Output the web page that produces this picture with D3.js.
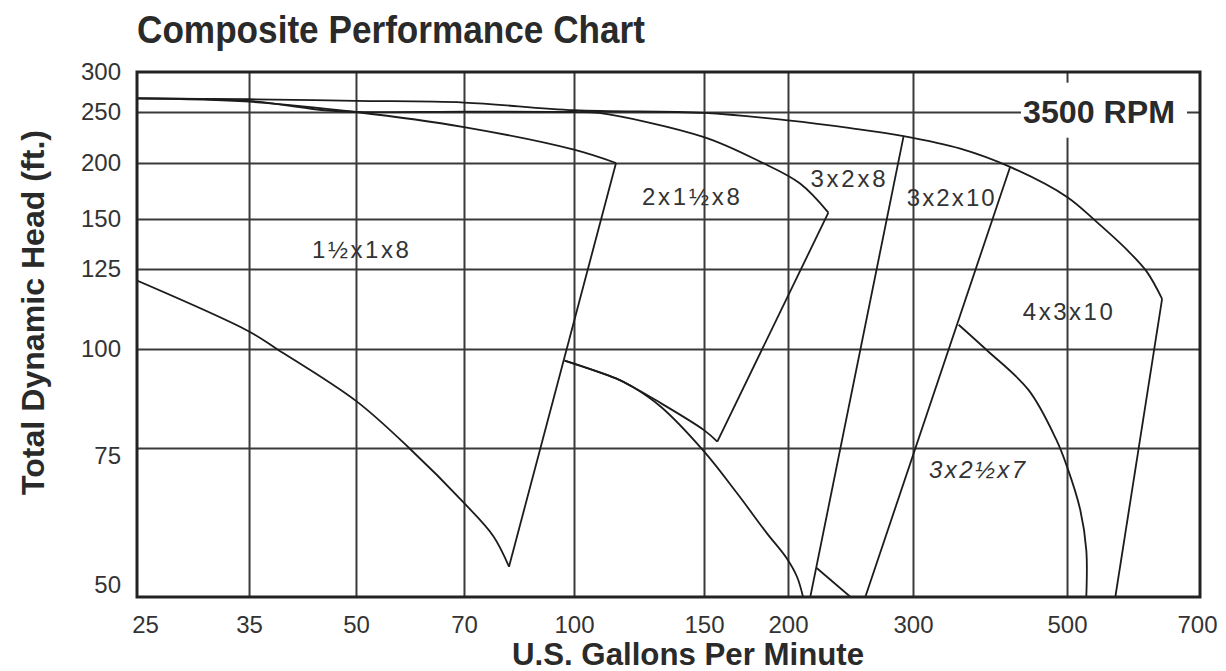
<!DOCTYPE html>
<html>
<head>
<meta charset="utf-8">
<script src="https://cdn.jsdelivr.net/npm/d3@7"></script>
<style>
  body { margin: 0; background: #fff; }
  svg { display: block; }
  text { font-family: "Liberation Sans", Arial, Helvetica, sans-serif; fill: #2a2a2a; }
  .grid line { stroke: #3a3a3a; stroke-width: 2; }
  .curve { fill: none; stroke: #1c1c1c; stroke-width: 1.8; }
</style>
</head>
<body>
<svg id="chart"></svg>
<script>
// tick values on both axes
const gpmTicks = [25, 35, 50, 70, 100, 150, 200, 300, 500, 700];
const headTicks = [50, 75, 100, 125, 150, 200, 250, 300];

// pump curves as [gpm, head ft]
// 1½x1x8
const top1 = [[25, 266], [35, 262], [50, 250], [70, 234], [100, 212], [114, 200]];
const end1 = [[114, 200], [81, 54.3]];
const low1 = [[25, 121], [35, 105], [38.4, 100], [50, 86], [59, 75], [70, 64.6], [77, 59], [81, 54.3]];

// 2x1½x8
const top2 = [[25, 266], [35, 263], [45, 252], [50, 250], [70, 250.5], [100, 250], [108, 249],
              [150, 224], [182, 201], [208, 180], [228, 155]];
const end2 = [[228, 155], [157, 76.4]];
const low2 = [[97, 96.7], [114, 91.8], [120, 89.6], [129, 86.2], [150, 79], [157, 76.4]];

// outer curve shared by 3x2x8, 3x2x10 and 4x3x10
const topOuter = [[25, 266], [35, 265], [50, 263], [70, 261], [100, 252], [150, 249], [200, 241],
                  [245, 233], [291, 225], [351, 213], [414, 196], [500, 168], [540, 148],
                  [582, 134], [612, 124], [636, 115]];

// 3x2x8
const end3 = [[291, 225], [215, 50]];
const low3 = [[97, 96.7], [114, 91.8], [120, 89.6], [131, 84.6], [150, 74.3], [168, 66.3],
              [186, 59.5], [199, 55.6], [206, 52.8], [210, 50]];

// 3x2x10
const end4 = [[414, 196], [257, 50]];
const low4 = [[219.5, 54.1], [245, 50]];

// 4x3x10
const end5 = [[636, 115], [565, 50]];

// 3x2½x7
const curve6 = [[349, 107], [383, 99.7], [440, 88.8], [482, 77], [500, 71.3], [517, 63.4],
                [525, 56.8], [525, 50]];

// model names and where they sit (gpm, head)
const sizeNames = ["1½x1x8", "2x1½x8", "3x2x8", "3x2x10", "4x3x10", "3x2½x7"];
const sizeSpots = [[50.7, 130], [144, 161], [243, 177], [340, 160], [501, 108.4], [371, 69.1]];
const sizeWidths = [97, 98, 75, 88, 90, 96];

const width = 1226, height = 671;
const margin = {top: 72, right: 26, bottom: 74, left: 137};
const w = width - margin.left - margin.right;
const h = height - margin.top - margin.bottom;

// the printed grid isn't an even log grid, so every tick gets its own stop (share of the plot)
const gpmStops = [0, 0.1054, 0.206, 0.3076, 0.4111, 0.5334, 0.6124, 0.73, 0.8749, 1];
const headStops = [0, 0.2838, 0.4724, 0.6248, 0.72, 0.8267, 0.9238, 1];

const x = d3.scaleLog().domain(gpmTicks).range(gpmStops.map(f => f * w));
const y = d3.scaleLog().domain(headTicks).range(headStops.map(f => h - f * h));

const svg = d3.select("#chart")
    .attr("width", width)
    .attr("height", height);

const g = svg.append("g")
    .attr("transform", `translate(${margin.left},${margin.top})`);

svg.append("defs").append("clipPath").attr("id", "plot")
    .append("rect").attr("width", w).attr("height", h);

// grid
g.append("g")
    .attr("class", "grid")
    .attr("transform", `translate(0,${h})`)
    .call(d3.axisBottom(x).tickValues(gpmTicks.slice(1, -1)).tickSize(-h).tickFormat(""))
    .call(s => s.select(".domain").remove());

g.append("g")
    .attr("class", "grid")
    .call(d3.axisLeft(y).tickValues(headTicks.slice(1, -1)).tickSize(-w).tickFormat(""))
    .call(s => s.select(".domain").remove());

// tick labels
const xAxis = g.append("g")
    .attr("transform", `translate(0,${h})`)
    .call(d3.axisBottom(x).tickValues(gpmTicks).tickFormat(d3.format("d")).tickSize(0).tickPadding(19))
    .call(s => s.select(".domain").remove());

const yAxis = g.append("g")
    .call(d3.axisLeft(y).tickValues(headTicks).tickFormat(d3.format("d")).tickSize(0).tickPadding(16))
    .call(s => s.select(".domain").remove());

[xAxis, yAxis].forEach(a => a
    .attr("font-size", 24)
    .attr("font-family", "Liberation Sans, Arial, sans-serif")
    .selectAll("text").style("fill", "#333"));

// the print sets a few labels slightly off their lines
xAxis.selectAll("text").attr("dx", d => d === 25 ? 8 : d === 700 ? -3 : 0);
yAxis.selectAll("text").attr("dy", d => d === 50 ? "-0.18em" : d === 75 ? "0.66em" : "0.32em");

// curves
const smooth = d3.line()
    .x(d => x(d[0]))
    .y(d => y(d[1]))
    .curve(d3.curveCatmullRom.alpha(0.5));

const straight = d3.line()
    .x(d => x(d[0]))
    .y(d => y(d[1]));

const curves = g.append("g").attr("clip-path", "url(#plot)");

[top1, low1, top2, low2, topOuter, low3, low4, curve6].forEach(c => {
    curves.append("path").attr("class", "curve").attr("d", smooth(c));
});

[end1, end2, end3, end4, end5].forEach(c => {
    curves.append("path").attr("class", "curve").attr("d", straight(c));
});

// model labels
g.selectAll(".size")
    .data(sizeNames)
    .enter().append("text")
    .attr("class", "size")
    .attr("x", (d, i) => x(sizeSpots[i][0]))
    .attr("y", (d, i) => y(sizeSpots[i][1]))
    .attr("text-anchor", "middle")
    .attr("font-size", 24)
    .attr("textLength", (d, i) => sizeWidths[i])
    .attr("lengthAdjust", "spacing")
    .style("font-style", d => d === "3x2½x7" ? "italic" : "normal")
    .style("fill", "#333")
    .text(d => d);

// speed tag with a white box over the grid
const rpmBox = g.append("rect").attr("fill", "#fff");
const rpm = g.append("text")
    .attr("x", w - 25)
    .attr("y", 50.7)
    .attr("text-anchor", "end")
    .attr("font-size", 32)
    .attr("font-weight", "bold")
    .attr("textLength", 152)
    .attr("lengthAdjust", "spacingAndGlyphs")
    .text("3500 RPM");
const bb = rpm.node().getBBox();
rpmBox
    .attr("x", bb.x - 2)
    .attr("y", bb.y - 11)
    .attr("width", bb.width + 14)
    .attr("height", bb.height + 19);

// frame
g.append("rect")
    .attr("width", w)
    .attr("height", h)
    .attr("fill", "none")
    .attr("stroke", "#222")
    .attr("stroke-width", 3);

// titles
svg.append("text")
    .attr("x", 137)
    .attr("y", 43)
    .attr("font-size", 39)
    .attr("font-weight", "bold")
    .attr("textLength", 508)
    .attr("lengthAdjust", "spacingAndGlyphs")
    .text("Composite Performance Chart");

svg.append("text")
    .attr("transform", "translate(43.5,312.5) rotate(-90)")
    .attr("text-anchor", "middle")
    .attr("font-size", 32)
    .attr("font-weight", "bold")
    .attr("textLength", 365)
    .attr("lengthAdjust", "spacingAndGlyphs")
    .text("Total Dynamic Head (ft.)");

svg.append("text")
    .attr("x", 688)
    .attr("y", 665)
    .attr("text-anchor", "middle")
    .attr("font-size", 32)
    .attr("font-weight", "bold")
    .attr("textLength", 352)
    .attr("lengthAdjust", "spacingAndGlyphs")
    .text("U.S. Gallons Per Minute");
</script>
</body>
</html>
